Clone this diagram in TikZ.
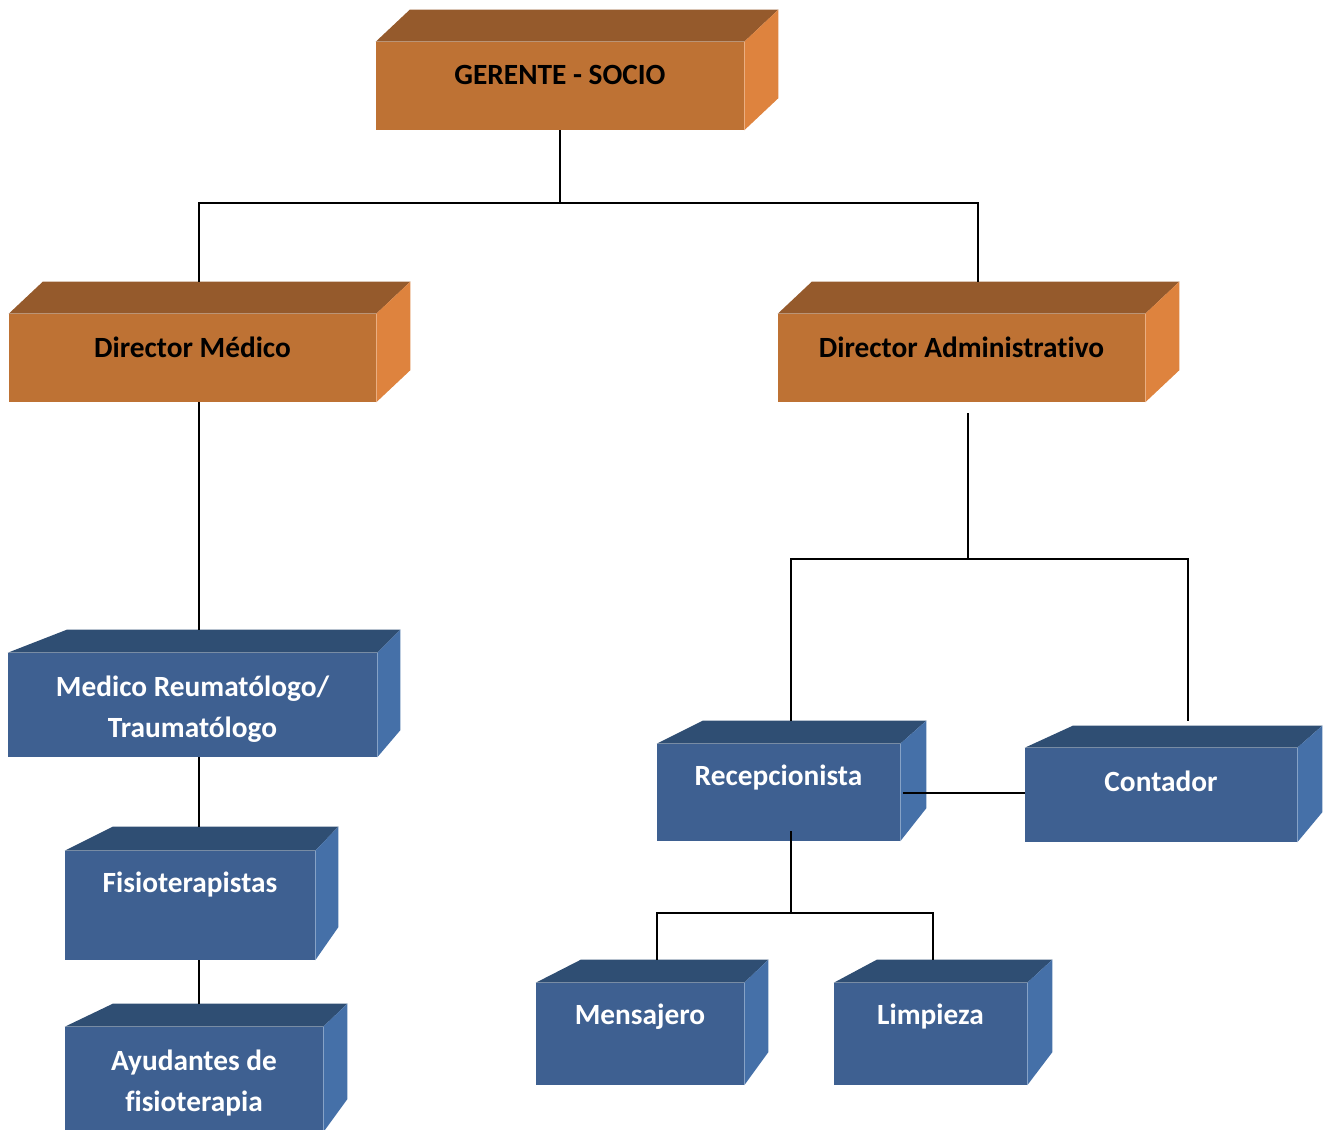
\documentclass[tikz,border=0pt]{standalone}
\usepackage{fontspec}
\setmainfont{Carlito}[Ligatures=NoCommon]
\usetikzlibrary{calc,fit}

\definecolor{frontorange}{HTML}{BE7234}
\definecolor{toporange}{HTML}{955A2C}
\definecolor{sideorange}{HTML}{DE833E}
\definecolor{frontblue}{HTML}{3E6091}
\definecolor{topblue}{HTML}{2F4E73}
\definecolor{sideblue}{HTML}{4570A8}

\tikzset{
  orangebox/.style={fill=frontorange, inner sep=0pt},
  bluebox/.style={fill=frontblue, inner sep=0pt},
  txt/.style={font=\bfseries\fontsize{22}{30.75}\selectfont, align=center},
  link/.style={draw=black, line width=1.5pt}
}

\begin{document}
\begin{tikzpicture}[x=0.75pt, y=-0.75pt]
        \useasboundingbox (0,0) rectangle (1332,1130);

        % Draw boxes (front faces)
        \node[orangebox, fit={(376,42) (744,130)},
              label={[txt, yshift=7.9pt]center:GERENTE - SOCIO}] (gerente) {};
        \node[orangebox, fit={(9,314) (376,402)},
              label={[txt, yshift=8.3pt]center:Director Médico}] (dmed) {};
        \node[orangebox, fit={(778,314) (1145,402)},
              label={[txt, yshift=8.3pt]center:Director Administrativo}] (dadm) {};
        \node[bluebox, fit={(8,653) (377,757)},
              label={[txt, text=white, yshift=-3pt]center:Medico Reumatólogo/\\Traumatólogo}] (medico) {};
        \node[bluebox, fit={(65,851) (315,960)},
              label={[txt, text=white, yshift=15.4pt]center:Fisioterapistas}] (fisio) {};
        \node[bluebox, fit={(65,1027) (323,1132)},
              label={[txt, text=white, yshift=-3pt]center:Ayudantes de\\fisioterapia}] (ayud) {};
        \node[bluebox, fit={(657,744) (900,841)},
              label={[txt, text=white, yshift=10.9pt]center:Recepcionista}] (recep) {};
        \node[bluebox, fit={(1025,748) (1297,842)},
              label={[txt, text=white, yshift=10pt]center:Contador}] (contador) {};
        \node[bluebox, fit={(536,983) (744,1085)},
              label={[txt, text=white, yshift=12.75pt]center:Mensajero}] (mens) {};
        \node[bluebox, fit={(834,983) (1027,1085)},
              label={[txt, text=white, yshift=12.75pt]center:Limpieza}] (limp) {};

        % Draw top and side faces
        \foreach \n/\l/\r/\t/\b in {gerente/34/34/32/32, dmed/34/34/32/32, dadm/34/34/32/32} {
          \fill[toporange] (\n.north west) -- ++(\l,-\t) -- ($(\n.north east)+(\r,-\t)$) -- (\n.north east) -- cycle;
          \fill[sideorange] (\n.north east) -- ++(\r,-\t) -- ($(\n.south east)+(\r,-\b)$) -- (\n.south east) -- cycle;
        }
        \foreach \n/\l/\r/\t/\b in {medico/59/23/23/27, fisio/48/23/24/33, ayud/48/24/23/33,
                                   recep/46/26/23/33, contador/48/25/22/30, mens/45/24/23/33, limp/43/25/23/33} {
          \fill[topblue] (\n.north west) -- ++(\l,-\t) -- ($(\n.north east)+(\r,-\t)$) -- (\n.north east) -- cycle;
          \fill[sideblue] (\n.north east) -- ++(\r,-\t) -- ($(\n.south east)+(\r,-\b)$) -- (\n.south east) -- cycle;
        }

        % Draw links
        \draw[link] (gerente.south) -- ++(0,73) -| ($(dmed.north)+(6,-32)$);
        \draw[link] (gerente.south) -- ++(0,73) -| ($(dadm.north)+(16,-32)$);
        \draw[link] ($(dmed.south)+(6,0)$) -- ($(medico.north)+(6,-23)$);
        \draw[link] ($(medico.south)+(6,0)$) -- ($(fisio.north)+(8.5,-24)$);
        \draw[link] ($(fisio.south)+(8.5,0)$) -- ($(ayud.north)+(4.5,-23)$);
        \draw[link] ($(dadm.south)+(6,11)$) -- ++(0,146) -| ($(recep.north)+(12,-23)$);
        \draw[link] ($(dadm.south)+(6,11)$) -- ++(0,146) -| ($(contador.north)+(27,-27)$);
        \draw[link] ($(recep.east)+(3,0)$) -- (recep.east -| contador.west);
        \draw[link] ($(recep.south)+(12,-10)$) -- ++(0,82) -| ($(mens.north)+(17,-23)$);
        \draw[link] ($(recep.south)+(12,-10)$) -- ++(0,82) -| ($(limp.north)+(2.5,-23)$);
\end{tikzpicture}
\end{document}
